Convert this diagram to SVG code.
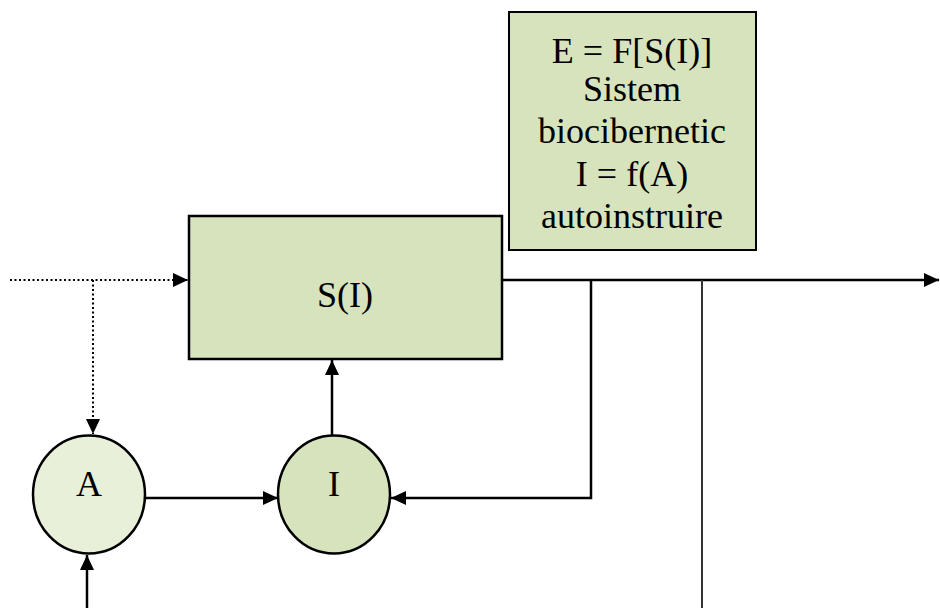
<svg xmlns="http://www.w3.org/2000/svg" width="940" height="608" viewBox="0 0 940 608">
<style>
text{font-family:'Liberation Serif',serif;fill:#000;text-anchor:middle}
.lbl{font-size:36px}
.ln{fill:none;stroke:#000;stroke-width:2.5}
.dot{fill:none;stroke:#000;stroke-width:2;stroke-dasharray:2 2.5}
</style>
<defs>
<marker id="ah" markerUnits="userSpaceOnUse" markerWidth="16" markerHeight="14" refX="15" refY="7" orient="auto">
<path d="M0,0 L15,7 L0,14 Z" fill="#000"/>
</marker>
</defs>
<rect width="940" height="608" fill="#fff"/>
<g id="connectors">
<path class="dot" d="M10,280 H188" marker-end="url(#ah)"/>
<path class="dot" d="M93,280 V434" marker-end="url(#ah)"/>
<path class="ln" d="M502,280 H939" marker-end="url(#ah)"/>
<path class="ln" d="M591,280 V498 H391" marker-end="url(#ah)"/>
<path class="ln" d="M702,280 V608" style="stroke:#333;stroke-width:2"/>
<path class="ln" d="M145,498 H278" marker-end="url(#ah)"/>
<path class="ln" d="M87,608 V555" marker-end="url(#ah)"/>
<path class="ln" d="M332,435 V360" marker-end="url(#ah)"/>
</g>
<g id="node-S">
<rect x="189" y="216" width="313" height="143" fill="#d7e3bc" stroke="#000" stroke-width="2.5"/>
<text class="lbl" x="345" y="307" font-family="Liberation Serif">S(I)</text>
</g>
<g id="node-E">
<rect x="509" y="12" width="247" height="238" fill="#d7e3bc" stroke="#000" stroke-width="2"/>
<text class="lbl" x="632" y="63">E = F[S(I)]</text>
<text class="lbl" x="632" y="101">Sistem</text>
<text class="lbl" x="632" y="143">biocibernetic</text>
<text class="lbl" x="632" y="186">I = f(A)</text>
<text class="lbl" x="632" y="228">autoinstruire</text>
</g>
<g id="node-A">
<ellipse cx="89" cy="494.5" rx="56" ry="59" fill="#e9f0da" stroke="#000" stroke-width="2.5"/>
<text class="lbl" x="89" y="496">A</text>
</g>
<g id="node-I">
<ellipse cx="334" cy="494.5" rx="56" ry="59" fill="#d7e3bc" stroke="#000" stroke-width="2.5"/>
<text class="lbl" x="334" y="496">I</text>
</g>
</svg>
